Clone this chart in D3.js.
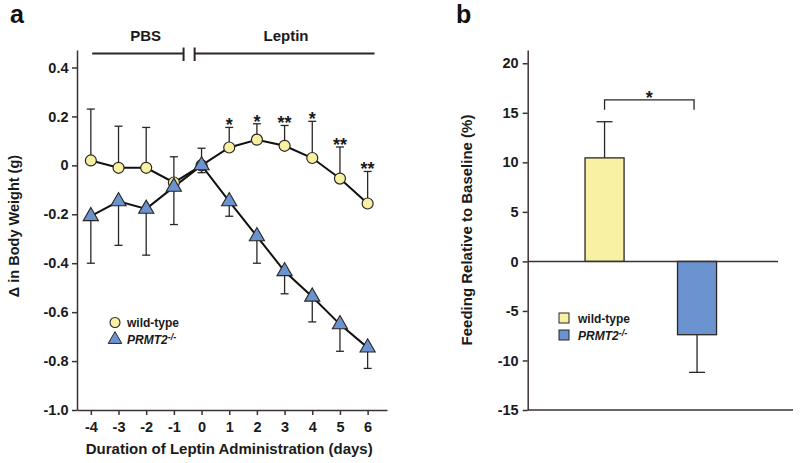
<!DOCTYPE html>
<html><head><meta charset="utf-8">
<script src="https://cdn.jsdelivr.net/npm/d3@7"></script>
<style>
body{margin:0;background:#fff;}
svg{display:block;font-family:"Liberation Sans",Arial,Helvetica,sans-serif;font-weight:bold;}
</style></head>
<body><svg id="c" width="800" height="463"></svg>
<script>
// ---- Panel a data ----
const days = [-4,-3,-2,-1,0,1,2,3,4,5,6];
const wtMean = [0.02,-0.01,-0.01,-0.07,0,0.073,0.105,0.08,0.03,-0.054,-0.156];
const wtErr  = [0.21,0.17,0.165,0.105,0.07,0.082,0.065,0.083,0.15,0.129,0.131];
const koMean = [-0.208,-0.147,-0.178,-0.088,0,-0.147,-0.29,-0.433,-0.537,-0.65,-0.745];
const koErr  = [0.192,0.18,0.189,0.154,0.03,0.061,0.11,0.092,0.103,0.11,0.085];
const stars  = ["","","","","","*","*","**","*","**","**"];
const leftTicks = [0.4,0.2,0,-0.2,-0.4,-0.6,-0.8,-1.0];
const phaseLabels = ["PBS","Leptin"];
const phaseFrom = [-3.95,-0.25];
const phaseTo = [-0.65,6.25];
const phaseMid = [-2.02,3.05];
// ---- Panel b data ----
const groups = ["wild-type","PRMT2-/-"];
const feedMean = [10.45,-7.4];
const feedErr = [3.65,3.8];
const rightTicks = [20,15,10,5,0,-5,-10,-15];

const YEL = "#f8f1a4", BLU = "#6a93d0", DARK = "#2b2523", AX = "#3b3331";
const svg = d3.select("#c");

function fmt(d){ if(d===0) return "0"; const s=Math.abs(d).toFixed(1); return (d<0?"-":"")+s; }

// ================= Panel a =================
const x = d3.scaleLinear().domain([-4.5,6.7]).range([77,387]);
const y = d3.scaleLinear().domain([-1.0,0.4715]).range([410,50]);
const ga = svg.append("g");

const yAx = ga.append("g").attr("transform","translate(77,0)")
  .call(d3.axisLeft(y).tickValues(leftTicks).tickSize(5).tickPadding(3.5).tickSizeOuter(0).tickFormat(fmt));
const xAx = ga.append("g").attr("transform","translate(0,410)")
  .call(d3.axisBottom(x).tickValues(days).tickSize(5).tickPadding(6.5).tickSizeOuter(0).tickFormat(d=>d<0?"-"+Math.abs(d):String(d)));
[yAx,xAx].forEach(a=>{
  a.selectAll("path,line").attr("stroke",AX).attr("stroke-width",1.5);
  a.selectAll("text").attr("fill","#1a1a1a").style("font-size","14.5px").style("font-weight","bold");
});

ga.append("text").attr("x",x(1.0)).attr("y",453.5).attr("text-anchor","middle")
  .style("font-size","15px").attr("fill","#1a1a1a").text("Duration of Leptin Administration (days)");
ga.append("text").attr("transform","translate(18.5,226) rotate(-90)").attr("text-anchor","middle")
  .style("font-size","14.5px").attr("fill","#1a1a1a").text("\u0394 in Body Weight (g)");
ga.append("text").attr("x",10).attr("y",23).style("font-size","25px").attr("fill","#111").text("a");

// phase bars
phaseLabels.forEach((lab,i)=>{
  ga.append("line").attr("x1",x(phaseFrom[i])).attr("x2",x(phaseTo[i])).attr("y1",53.5).attr("y2",53.5)
    .attr("stroke",DARK).attr("stroke-width",2);
  const tx = i===0 ? x(phaseTo[i]) : x(phaseFrom[i]);
  ga.append("line").attr("x1",tx).attr("x2",tx).attr("y1",47.5).attr("y2",61).attr("stroke",DARK).attr("stroke-width",2);
  ga.append("text").attr("x",x(phaseMid[i])).attr("y",40.5).attr("text-anchor","middle")
    .style("font-size","15px").attr("fill","#1a1a1a").text(lab);
});

// error bars
const cap = 4;
days.forEach((d,i)=>{
  const cx = x(d);
  const t = y(wtMean[i]+wtErr[i]);
  ga.append("line").attr("x1",cx).attr("x2",cx).attr("y1",y(wtMean[i])).attr("y2",t).attr("stroke",DARK).attr("stroke-width",1.3);
  ga.append("line").attr("x1",cx-cap).attr("x2",cx+cap).attr("y1",t).attr("y2",t).attr("stroke",DARK).attr("stroke-width",1.3);
  const b = y(koMean[i]-koErr[i]);
  ga.append("line").attr("x1",cx).attr("x2",cx).attr("y1",y(koMean[i])).attr("y2",b).attr("stroke",DARK).attr("stroke-width",1.3);
  ga.append("line").attr("x1",cx-cap).attr("x2",cx+cap).attr("y1",b).attr("y2",b).attr("stroke",DARK).attr("stroke-width",1.3);
  if(stars[i]) ga.append("text").attr("x",cx).attr("y",t+4).attr("text-anchor","middle")
    .style("font-size","18px").attr("fill","#1a1a1a").text(stars[i]);
});

const line = d3.line().x(d=>x(d[0])).y(d=>y(d[1]));
ga.append("path").datum(days.map((d,i)=>[d,koMean[i]])).attr("d",line).attr("fill","none").attr("stroke","#111").attr("stroke-width",2);
ga.append("path").datum(days.map((d,i)=>[d,wtMean[i]])).attr("d",line).attr("fill","none").attr("stroke","#111").attr("stroke-width",2);

ga.selectAll("circle.wt").data(days).enter().append("circle")
  .attr("cx",d=>x(d)).attr("cy",(d,i)=>y(wtMean[i])).attr("r",5.5)
  .attr("fill",YEL).attr("stroke",DARK).attr("stroke-width",1.2);
const tri = d3.symbol().type(d3.symbolTriangle).size(100);
ga.selectAll("path.ko").data(days).enter().append("path")
  .attr("d",tri).attr("transform",(d,i)=>`translate(${x(d)},${y(koMean[i])})`)
  .attr("fill",BLU).attr("stroke",DARK).attr("stroke-width",1.1);

// legend a
ga.append("circle").attr("cx",115).attr("cy",322.5).attr("r",5).attr("fill",YEL).attr("stroke",DARK).attr("stroke-width",1.1);
ga.append("text").attr("x",127).attr("y",326.8).style("font-size","12px").attr("fill","#1a1a1a").text(groups[0]);
ga.append("path").attr("d",d3.symbol().type(d3.symbolTriangle).size(80)).attr("transform","translate(115,339.5)")
  .attr("fill",BLU).attr("stroke",DARK).attr("stroke-width",1);
const la = ga.append("text").attr("x",127).attr("y",343.5).style("font-size","12px").attr("fill","#1a1a1a");
la.append("tspan").style("font-style","italic").text("PRMT2");
la.append("tspan").attr("dy",-4).style("font-size","9px").style("font-style","italic").text("-/-");

// ================= Panel b =================
const yb = d3.scaleLinear().domain([-15,21.34]).range([410,50]);
const xb = d3.scaleBand().domain(groups).range([527.7,773.9]).paddingInner(0.578).paddingOuter(0.62);
const gb = svg.append("g");

const ybAx = gb.append("g").attr("transform","translate(527.7,0)")
  .call(d3.axisLeft(yb).tickValues(rightTicks).tickSize(5).tickPadding(4).tickSizeOuter(0).tickFormat(d=>d<0?"-"+Math.abs(d):String(d)));
ybAx.selectAll("path,line").attr("stroke",AX).attr("stroke-width",1.5);
ybAx.selectAll("text").attr("fill","#1a1a1a").style("font-size","14.5px").style("font-weight","bold");
gb.append("line").attr("x1",527.7).attr("x2",793).attr("y1",yb(-15)).attr("y2",yb(-15)).attr("stroke",AX).attr("stroke-width",1.5);

const barCol = [YEL,BLU];
groups.forEach((g,i)=>{
  const v = feedMean[i];
  gb.append("rect").attr("x",xb(g)).attr("width",xb.bandwidth())
    .attr("y",yb(Math.max(0,v))).attr("height",Math.abs(yb(v)-yb(0)))
    .attr("fill",barCol[i]).attr("stroke",DARK).attr("stroke-width",1.3);
  const cx = xb(g)+xb.bandwidth()/2;
  const e = v>=0 ? yb(v+feedErr[i]) : yb(v-feedErr[i]);
  gb.append("line").attr("x1",cx).attr("x2",cx).attr("y1",yb(v)).attr("y2",e).attr("stroke",DARK).attr("stroke-width",1.3);
  gb.append("line").attr("x1",cx-8).attr("x2",cx+8).attr("y1",e).attr("y2",e).attr("stroke",DARK).attr("stroke-width",1.3);
});
gb.append("line").attr("x1",527.7).attr("x2",778).attr("y1",yb(0)).attr("y2",yb(0)).attr("stroke",AX).attr("stroke-width",1.5);

// significance bracket
const c0 = xb(groups[0])+xb.bandwidth()/2, c1 = xb(groups[1])+xb.bandwidth()/2 - 3;
gb.append("path").attr("d",`M${c0},${yb(15.3)}V${yb(16.3)}H${c1}V${yb(15.3)}`)
  .attr("fill","none").attr("stroke",DARK).attr("stroke-width",1.3);
gb.append("text").attr("x",(c0+c1)/2).attr("y",yb(16.3)+4).attr("text-anchor","middle").style("font-size","18px").attr("fill","#1a1a1a").text("*");

gb.append("text").attr("transform","translate(472,230) rotate(-90)").attr("text-anchor","middle")
  .style("font-size","15px").attr("fill","#1a1a1a").text("Feeding Relative to Baseline (%)");
gb.append("text").attr("x",456).attr("y",23).style("font-size","25px").attr("fill","#111").text("b");

// legend b
gb.append("rect").attr("x",559).attr("y",313).attr("width",10).attr("height",10).attr("fill",YEL).attr("stroke",DARK).attr("stroke-width",1);
gb.append("text").attr("x",578).attr("y",322.5).style("font-size","12px").attr("fill","#1a1a1a").text(groups[0]);
gb.append("rect").attr("x",559).attr("y",330).attr("width",10).attr("height",10).attr("fill",BLU).attr("stroke",DARK).attr("stroke-width",1);
const lb = gb.append("text").attr("x",578).attr("y",339.5).style("font-size","12px").attr("fill","#1a1a1a");
lb.append("tspan").style("font-style","italic").text("PRMT2");
lb.append("tspan").attr("dy",-4).style("font-size","9px").style("font-style","italic").text("-/-");
</script></body></html>
